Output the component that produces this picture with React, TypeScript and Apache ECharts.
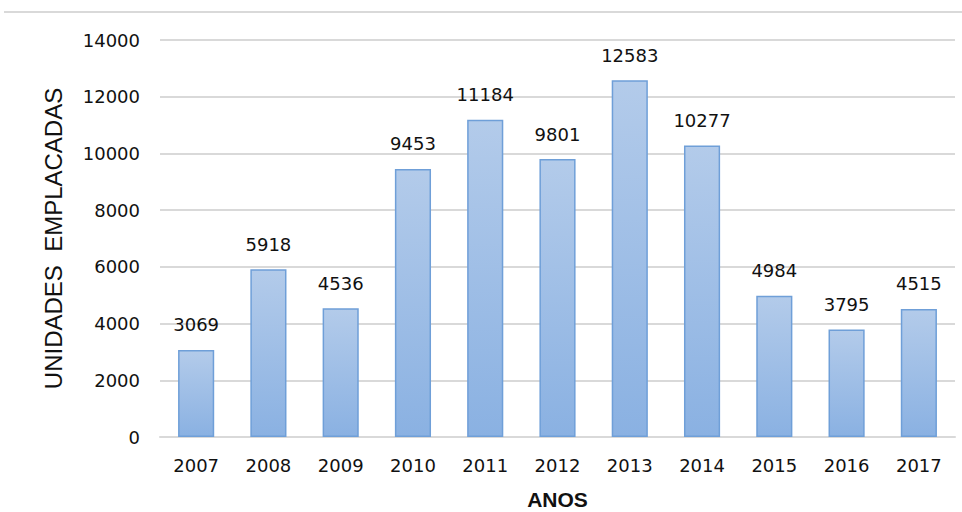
import React, { useEffect, useRef } from "react";
import * as echarts from "echarts";

const years = ["2007", "2008", "2009", "2010", "2011", "2012", "2013", "2014", "2015", "2016", "2017"];
const units = [3069, 5918, 4536, 9453, 11184, 9801, 12583, 10277, 4984, 3795, 4515];
const yMin = 0;
const yMax = 14000;
const yStep = 2000;

export default function App() {
  const ref = useRef<HTMLDivElement>(null);
  useEffect(() => {
    if (!ref.current) return;
    const chart = echarts.init(ref.current, null, { renderer: "svg" });
    const font = "DejaVu Sans";
    chart.setOption({
      animation: false,
      backgroundColor: "#ffffff",
      graphic: [
        {
          type: "line",
          shape: { x1: 4, y1: 12, x2: 962, y2: 12 },
          style: { stroke: "#d9d9d9", lineWidth: 2 },
        },
      ],
      grid: { left: 160, right: 7, top: 40, bottom: 75, containLabel: false, outerBoundsMode: "none" },
      xAxis: {
        type: "category",
        data: years,
        name: "ANOS",
        nameLocation: "middle",
        nameGap: 52,
        nameTextStyle: { fontFamily: "Liberation Sans", fontWeight: "bold", fontSize: 21, color: "#111" },
        axisLine: { show: true, lineStyle: { color: "#d9d9d9", width: 2 } },
        axisTick: { show: false },
        axisLabel: { margin: 19, fontFamily: font, fontSize: 18, color: "#111" },
      },
      yAxis: {
        type: "value",
        min: yMin,
        max: yMax,
        interval: yStep,
        name: "UNIDADES  EMPLACADAS",
        nameLocation: "middle",
        nameGap: 95,
        nameRotate: 90,
        nameTextStyle: { fontFamily: "Liberation Sans", fontSize: 24, color: "#111" },
        axisLine: { show: false },
        axisTick: { show: false },
        axisLabel: {
          margin: 20,
          fontFamily: font,
          fontSize: 18,
          color: "#111",
          formatter: (v: number) => String(v),
        },
        splitLine: { lineStyle: { color: "#d9d9d9", width: 2 } },
      },
      series: [
        {
          type: "bar",
          data: units,
          barWidth: "50%",
          itemStyle: {
            color: new echarts.graphic.LinearGradient(0, 0, 0, 1, [
              { offset: 0, color: "#b3cbea" },
              { offset: 1, color: "#8ab1e2" },
            ]),
            borderColor: "#6f9fd8",
            borderWidth: 1.5,
          },
          label: {
            show: true,
            position: "top",
            distance: 16,
            fontFamily: font,
            fontSize: 18,
            color: "#111",
          },
        },
      ],
    });
    return () => chart.dispose();
  }, []);
  return <div ref={ref} style={{ width: 962, height: 512, position: "absolute", left: 0, top: 0 }} />;
}
